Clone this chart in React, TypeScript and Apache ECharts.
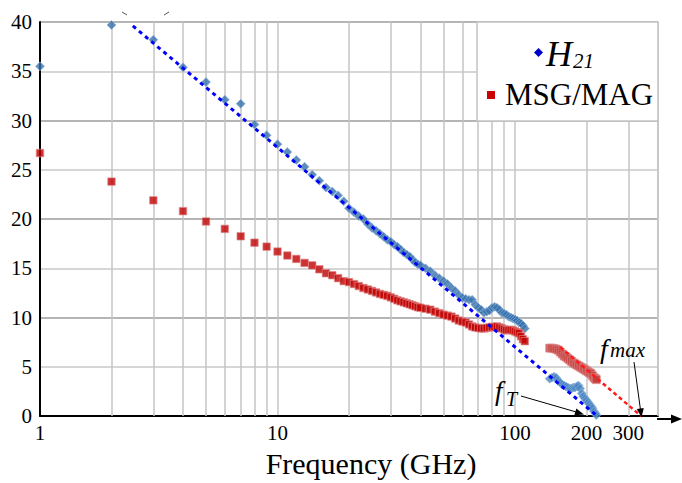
import { useEffect, useRef } from 'react';
import * as echarts from 'echarts';

const SERIF = 'Liberation Serif';

// |H21| measured, band 1 (1-110 GHz) and band 2 (140-220 GHz)
const h21Band1: [number, number][] = [
  [1, 35.5], [2, 39.7], [3, 38.2], [4, 35.4], [5, 33.9], [6, 32.1], [7, 31.7], [8, 29.6], [9, 28.5], [10, 27.6],
  [11, 26.8], [12, 26.0], [13, 25.3], [14, 24.5], [15, 23.9], [16, 23.2], [17, 22.8], [18, 22.4], [19, 21.8], [20, 21.1],
  [21, 20.7], [22, 20.3], [23, 20.0], [24, 19.5], [25, 19.1], [26, 18.8], [27, 18.5], [28, 18.2], [29, 17.9], [30, 17.7],
  [31, 17.4], [32, 17.2], [33, 16.9], [34, 16.6], [35, 16.4], [36, 16.2], [37, 15.9], [38, 15.6], [39, 15.4], [40, 15.3],
  [42, 15.0], [44, 14.7], [46, 14.3], [48, 14.0], [50, 13.7], [52, 13.4], [54, 13.0], [56, 12.7], [58, 12.3], [60, 12.0],
  [62, 11.9], [64, 11.8], [66, 11.8], [68, 11.3], [70, 11.0], [72, 10.8], [74, 10.5], [76, 10.6], [78, 10.7], [80, 11.0],
  [82, 11.1], [84, 11.0], [86, 10.8], [88, 10.5], [90, 10.4], [92, 10.3], [94, 10.1], [96, 10.0], [98, 9.9], [100, 9.8],
  [102, 9.7], [104, 9.5], [106, 9.4], [108, 9.2], [110, 8.9],
];
const h21Band2: [number, number][] = [
  [140, 3.8], [143, 3.9], [146, 4.0], [149, 3.9], [152, 3.6], [155, 3.4], [158, 3.2], [161, 3.1], [164, 3.0], [167, 2.9],
  [170, 2.8], [173, 2.8], [176, 2.9], [179, 2.9], [182, 3.0], [185, 3.1], [188, 2.8], [191, 2.3], [194, 2.0], [197, 1.8],
  [200, 1.6], [203, 1.4], [206, 1.2], [209, 1.0], [212, 0.8], [215, 0.5], [218, 0.3], [220, 0.1],
];

// MSG/MAG measured
const msgBand1: [number, number][] = [
  [1, 26.7], [2, 23.8], [3, 21.9], [4, 20.8], [5, 19.75], [6, 19.0], [7, 18.25], [8, 17.6], [9, 17.2], [10, 16.7],
  [11, 16.3], [12, 15.95], [13, 15.55], [14, 15.3], [15, 14.9], [16, 14.5], [17, 14.3], [18, 14.0], [19, 13.7], [20, 13.6],
  [21, 13.4], [22, 13.2], [23, 13.0], [24, 12.85], [25, 12.7], [26, 12.55], [27, 12.4], [28, 12.3], [29, 12.2], [30, 12.05],
  [31, 11.9], [32, 11.75], [33, 11.65], [34, 11.55], [35, 11.45], [36, 11.35], [37, 11.25], [38, 11.15], [39, 11.05], [40, 11.0],
  [42, 10.9], [44, 10.8], [46, 10.6], [48, 10.45], [50, 10.3], [52, 10.2], [54, 10.1], [56, 9.9], [58, 9.7], [60, 9.6],
  [62, 9.5], [64, 9.3], [66, 9.1], [68, 9.0], [70, 8.95], [72, 8.9], [74, 8.9], [76, 8.95], [78, 9.0], [80, 9.05],
  [82, 9.05], [84, 9.1], [86, 9.0], [88, 8.9], [90, 8.8], [92, 8.7], [94, 8.75], [96, 8.75], [98, 8.7], [100, 8.6],
  [102, 8.5], [104, 8.4], [106, 8.1], [108, 7.8], [110, 7.6],
];
const msgBand2: [number, number][] = [
  [140, 6.9], [143, 6.9], [146, 6.85], [149, 6.8], [152, 6.7], [155, 6.5], [158, 6.3], [161, 6.1], [164, 6.0], [167, 5.85],
  [170, 5.7], [173, 5.55], [176, 5.4], [179, 5.3], [182, 5.2], [185, 5.1], [188, 5.0], [191, 4.9], [194, 4.8], [197, 4.7],
  [200, 4.6], [203, 4.5], [206, 4.4], [209, 4.3], [212, 4.1], [215, 3.9], [218, 3.8], [220, 3.7],
];

// -20 dB/dec extrapolations
const h21Fit: [number, number][] = [[2.46, 39.6], [222, 0]];
const msgFit: [number, number][] = [[155, 7.0], [340, 0]];

// axis ticks
const decadeTickLabels = [1, 10, 100];
const extraTickLabels = [200, 300];
const minorGridFreqs = [2, 3, 4, 5, 6, 7, 8, 9, 20, 30, 40, 50, 60, 70, 80, 90, 200, 300, 400];

const tickRich = { t: { fontFamily: SERIF, fontSize: 21, color: '#000' } };

export default function App() {
  const ref = useRef<HTMLDivElement>(null);

  useEffect(() => {
    if (!ref.current) return;
    const chart = echarts.init(ref.current, undefined, { renderer: 'svg' });

    const arrowHead = (tip: [number, number], from: [number, number], len = 9, half = 3.5) => {
      const dx = tip[0] - from[0];
      const dy = tip[1] - from[1];
      const l = Math.hypot(dx, dy);
      const ux = dx / l, uy = dy / l;
      const bx = tip[0] - ux * len, by = tip[1] - uy * len;
      return [[tip[0], tip[1]], [bx - uy * half, by + ux * half], [bx + uy * half, by - ux * half]];
    };

    const option: any = {
      animation: false,
      textStyle: { fontFamily: SERIF },
      grid: { left: 40, top: 22, right: 24, bottom: 64 },
      xAxis: {
        type: 'log',
        logBase: 10,
        min: 1,
        max: 400,
        name: '{n|Frequency (GHz)}',
        nameLocation: 'middle',
        nameGap: 20,
        nameTextStyle: {
          fontFamily: SERIF,
          fontSize: 30,
          color: '#000',
          padding: [0, 0, 0, 44],
          rich: { n: { fontFamily: SERIF, fontSize: 30, color: '#000' } },
        },
        axisLine: { show: true, lineStyle: { color: '#000', width: 2 } },
        axisTick: { show: false },
        axisLabel: {
          fontFamily: SERIF,
          fontSize: 21,
          color: '#000',
          margin: 6,
          rich: tickRich,
          formatter: (v: number) => {
            const r = Math.round(v);
            return decadeTickLabels.includes(r) ? '{t|' + r + '}' : '';
          },
        },
        splitLine: { show: true, lineStyle: { color: '#c4c4c4', width: 1.5 } },
      },
      yAxis: {
        type: 'value',
        min: 0,
        max: 40,
        interval: 5,
        axisLine: { show: true, lineStyle: { color: '#000', width: 2 } },
        axisTick: { show: false },
        axisLabel: {
          fontFamily: SERIF,
          fontSize: 21,
          color: '#000',
          margin: 8,
          rich: tickRich,
          formatter: (v: number) => '{t|' + v + '}',
        },
        splitLine: { show: true, lineStyle: { color: ['#9c9c9c', '#c8c8c8'], width: 1.5 } },
      },
      series: [
        {
          name: 'grid',
          type: 'line',
          data: [],
          silent: true,
          z: 1,
          markLine: {
            silent: true,
            z: 1,
            symbol: ['none', 'none'],
            emphasis: { disabled: true },
            lineStyle: { color: '#c4c4c4', width: 1.5, type: 'solid' },
            label: { show: false, position: 'start', distance: 6, fontFamily: SERIF, fontSize: 21, color: '#000', rich: tickRich },
            data: minorGridFreqs.map((f) => ({
              xAxis: f,
              label: extraTickLabels.includes(f)
                ? { show: true, formatter: '{t|' + f + '}', rich: tickRich }
                : { show: false },
            })),
          },
        },
        {
          name: 'H21',
          type: 'scatter',
          data: h21Band1,
          symbol: 'diamond',
          symbolSize: 9,
          itemStyle: { color: '#3670ab', borderColor: '#8fb4dc', borderWidth: 0.8 },
          z: 3,
        },
        {
          name: 'H21',
          type: 'scatter',
          data: h21Band2,
          symbol: 'diamond',
          symbolSize: 9,
          itemStyle: { color: '#4a85c2', borderColor: '#8fb4dc', borderWidth: 0.8 },
          z: 3,
        },
        {
          name: 'MSG/MAG',
          type: 'scatter',
          data: msgBand1,
          symbol: 'rect',
          symbolSize: 7.5,
          itemStyle: { color: '#c00000', borderColor: '#e08a8a', borderWidth: 0.8 },
          z: 3,
        },
        {
          name: 'MSG/MAG',
          type: 'scatter',
          data: msgBand2,
          symbol: 'rect',
          symbolSize: 8,
          itemStyle: { color: '#c23f3c', borderColor: '#e08a8a', borderWidth: 0.8 },
          z: 3,
        },
        {
          name: 'H21 fit',
          type: 'line',
          data: h21Fit,
          showSymbol: false,
          symbol: 'none',
          lineStyle: { color: '#0000ff', width: 3, type: [4, 4] },
          z: 4,
        },
        {
          name: 'MSG fit',
          type: 'line',
          data: msgFit,
          showSymbol: false,
          symbol: 'none',
          lineStyle: { color: '#ff1a1a', width: 2.5, type: [4, 3] },
          z: 4,
        },
      ],
      graphic: [
        // x-axis arrow extension
        { type: 'line', shape: { x1: 657, y1: 419, x2: 674, y2: 419 }, style: { stroke: '#000', lineWidth: 2 }, z: 60 },
        { type: 'polygon', shape: { points: [[671, 414.5], [682, 419], [671, 423.5]] }, style: { fill: '#000' }, z: 60 },
        // clipped marks at top
        { type: 'line', shape: { x1: 122, y1: 12, x2: 127, y2: 15 }, style: { stroke: '#555', lineWidth: 1 } },
        { type: 'line', shape: { x1: 164, y1: 15, x2: 169, y2: 12 }, style: { stroke: '#555', lineWidth: 1 } },
        // legend box
        { type: 'rect', shape: { x: 477, y: 22, width: 181, height: 99 }, style: { fill: '#fff', stroke: '#c4c4c4', lineWidth: 1.5 }, z: 50 },
        { type: 'polygon', shape: { points: [[538.5, 48], [543, 52.5], [538.5, 57], [534, 52.5]] }, style: { fill: '#0000cc' }, z: 51 },
        { type: 'text', x: 546, y: 54.2, style: { text: 'H', fontFamily: SERIF, fontStyle: 'italic', fontSize: 36, fill: '#000', verticalAlign: 'middle', align: 'left' }, z: 51 },
        { type: 'text', x: 573, y: 60.5, style: { text: '21', fontFamily: SERIF, fontStyle: 'italic', fontSize: 21, fill: '#000', verticalAlign: 'middle', align: 'left' }, z: 51 },
        { type: 'rect', shape: { x: 487, y: 91, width: 8, height: 8 }, style: { fill: '#cc0000' }, z: 51 },
        { type: 'text', x: 505, y: 94.7, style: { text: 'MSG/MAG', fontFamily: SERIF, fontSize: 31, fill: '#000', verticalAlign: 'middle', align: 'left' }, z: 51 },
        // fT annotation
        { type: 'text', x: 495, y: 390.5, style: { text: 'f', fontFamily: SERIF, fontStyle: 'italic', fontSize: 27, fill: '#000', verticalAlign: 'middle', align: 'left' }, z: 51 },
        { type: 'text', x: 506, y: 399, style: { text: 'T', fontFamily: SERIF, fontStyle: 'italic', fontSize: 20, fill: '#000', verticalAlign: 'middle', align: 'left' }, z: 51 },
        { type: 'line', shape: { x1: 521, y1: 396, x2: 578, y2: 412.5 }, style: { stroke: '#000', lineWidth: 1 }, z: 51 },
        { type: 'polygon', shape: { points: arrowHead([584, 414.5], [521, 396]) }, style: { fill: '#000' }, z: 51 },
        // fmax annotation
        { type: 'text', x: 600, y: 348.6, style: { text: 'f', fontFamily: SERIF, fontStyle: 'italic', fontSize: 28, fill: '#000', verticalAlign: 'middle', align: 'left' }, z: 51 },
        { type: 'text', x: 610, y: 349.7, style: { text: 'max', fontFamily: SERIF, fontStyle: 'italic', fontSize: 21, fill: '#000', verticalAlign: 'middle', align: 'left' }, z: 51 },
        { type: 'line', shape: { x1: 634, y1: 362, x2: 640.5, y2: 410 }, style: { stroke: '#000', lineWidth: 1 }, z: 51 },
        { type: 'polygon', shape: { points: arrowHead([641.5, 417.5], [634, 362]) }, style: { fill: '#000' }, z: 51 },
      ],
    };

    chart.setOption(option);
    return () => chart.dispose();
  }, []);

  return (
    <div
      ref={ref}
      style={{ position: 'fixed', left: 0, top: 0, width: 682, height: 483, background: '#fff' }}
    />
  );
}
